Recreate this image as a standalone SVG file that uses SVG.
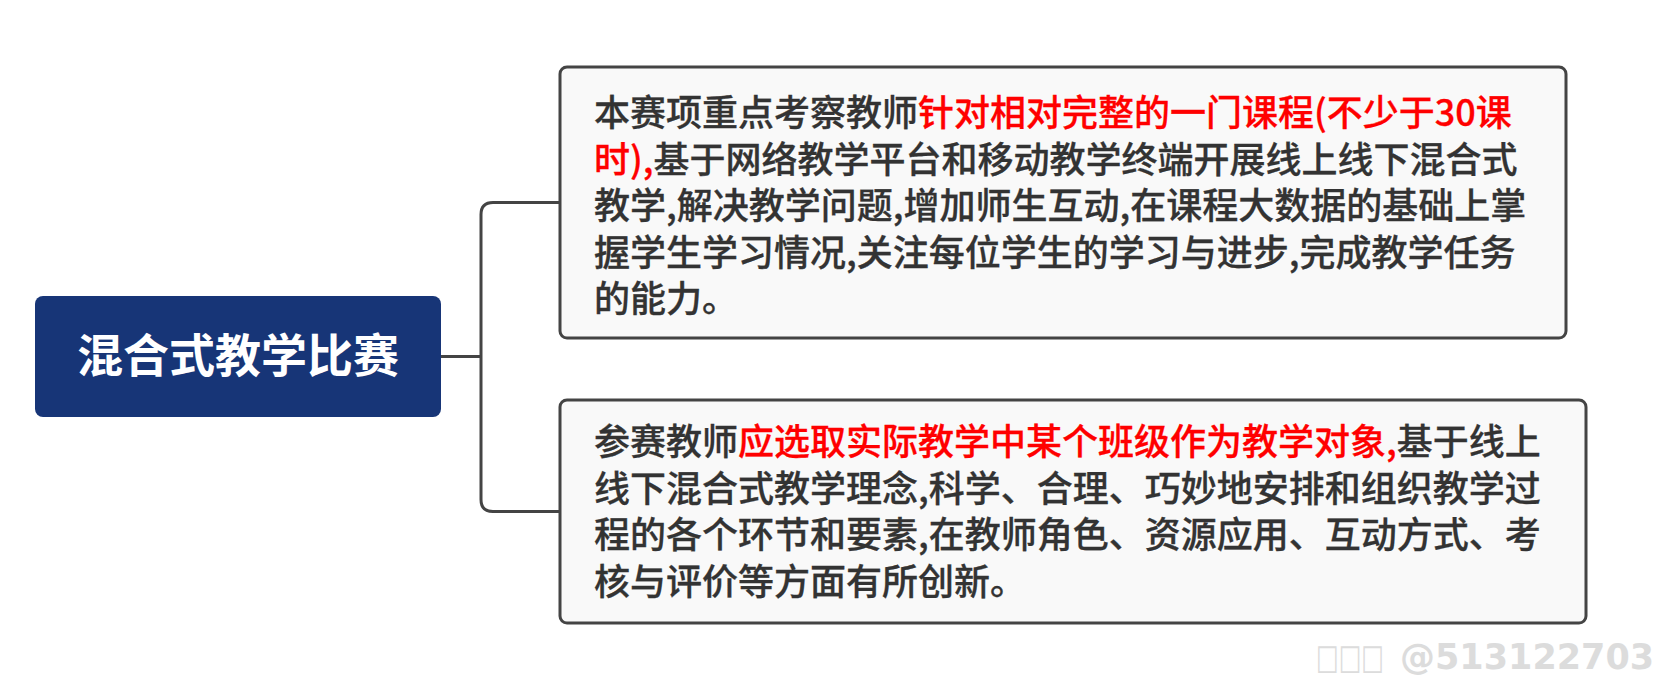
<svg xmlns="http://www.w3.org/2000/svg" width="1677" height="680" viewBox="0 0 1677 680">
<style>
.box{fill:#f9f9f9;stroke:#444;stroke-width:3}
.conn{fill:none;stroke:#444;stroke-width:3}
.t{font-family:"Noto Sans CJK SC","Microsoft YaHei",sans-serif;font-size:36px;font-weight:500;fill:#333;stroke:#333;stroke-width:0.3px}
.r{fill:#ff0000;stroke:#ff0000}
.main{font-family:"Noto Sans CJK SC",sans-serif;font-size:46px;font-weight:700;fill:#fff}
.wm{font-family:"DejaVu Sans",sans-serif;font-size:35px;font-weight:700;fill:#dcdcdc}
</style>
<rect width="1677" height="680" fill="#fff"/>
<g id="connectors">
<path class="conn" d="M441 356.5 H481"/>
<path class="conn" d="M560 202.5 H493 Q481 202.5 481 214.5 V499.5 Q481 511.5 493 511.5 H560"/>
</g>
<g id="root">
<rect x="35" y="296" width="406" height="121" rx="8" fill="#173577"/>
<text class="main" x="238" y="372" text-anchor="middle">混合式教学比赛</text>
</g>
<g id="node1">
<rect class="box" x="560" y="67" width="1006" height="271" rx="7"/>
<text class="t" x="594" y="126">本赛项重点考察教师<tspan class="r">针对相对完整的一门课程(不少于30课</tspan></text>
<text class="t" x="594" y="172.5"><tspan class="r">时),</tspan>基于网络教学平台和移动教学终端开展线上线下混合式</text>
<text class="t" x="594" y="219">教学,解决教学问题,增加师生互动,在课程大数据的基础上掌</text>
<text class="t" x="594" y="265.5">握学生学习情况,关注每位学生的学习与进步,完成教学任务</text>
<text class="t" x="594" y="312">的能力。</text>
</g>
<g id="node2">
<rect class="box" x="560" y="400" width="1026" height="223" rx="7"/>
<text class="t" x="594" y="455">参赛教师<tspan class="r">应选取实际教学中某个班级作为教学对象,</tspan>基于线上</text>
<text class="t" x="594" y="501.5">线下混合式教学理念,科学、合理、巧妙地安排和组织教学过</text>
<text class="t" x="594" y="548">程的各个环节和要素,在教师角色、资源应用、互动方式、考</text>
<text class="t" x="594" y="594.5">核与评价等方面有所创新。</text>
</g>
<g id="watermark">
<text class="wm" x="1316" y="669" textLength="68" lengthAdjust="spacingAndGlyphs">□□□</text>
<text class="wm" x="1400" y="669">@513122703</text>
</g>
</svg>
